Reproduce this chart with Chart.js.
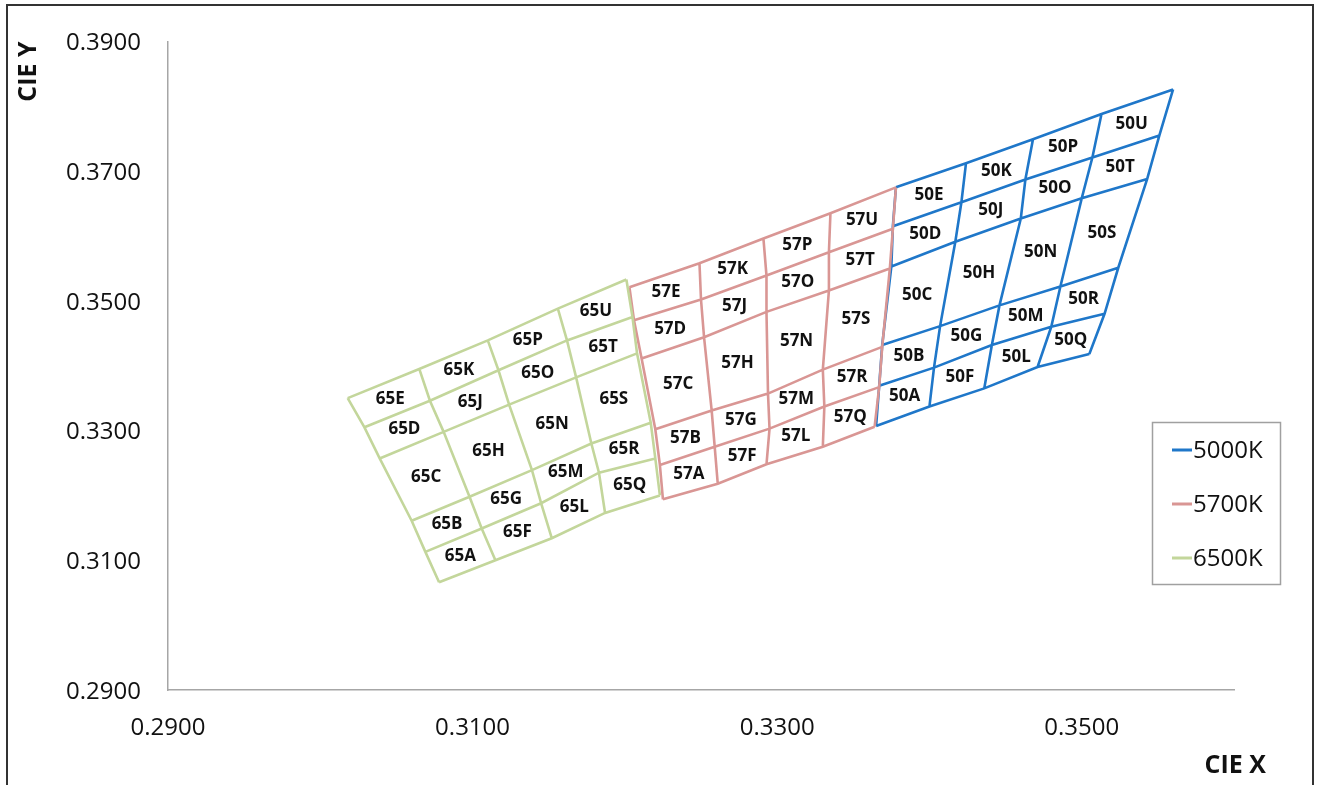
<!DOCTYPE html>
<html>
<head>
<meta charset="utf-8">
<script src="https://cdn.jsdelivr.net/npm/chart.js@4"></script>
<style>
  html, body { margin: 0; padding: 0; background: #fff; }
  #wrap { width: 1319px; height: 785px; }
</style>
</head>
<body>
<div id="wrap"><canvas id="myChart" width="1319" height="785"></canvas></div>
<script>
// bin letters, column by column (bottom to top), no "I"
var binLetters = ['A','B','C','D','E','F','G','H','J','K','L','M','N','O','P','Q','R','S','T','U'];

var xTicks = [0.29, 0.31, 0.33, 0.35];
var yTicks = [0.29, 0.31, 0.33, 0.35, 0.37, 0.39];

// grid corners: one array per column line, bottom row line first
var x65 = [
    [0.3078, 0.3069, 0.3060, 0.3039, 0.3029, 0.3018],
    [0.3115, 0.3106, 0.3098, 0.3081, 0.3072, 0.3065],
    [0.3152, 0.3145, 0.3139, 0.3124, 0.3117, 0.3110],
    [0.3187, 0.3183, 0.3178, 0.3168, 0.3162, 0.3156],
    [0.3223, 0.3220, 0.3217, 0.3208, 0.3205, 0.3201]
];
var y65 = [
    [0.3066, 0.3113, 0.3161, 0.3257, 0.3305, 0.3350],
    [0.3100, 0.3149, 0.3198, 0.3298, 0.3346, 0.3395],
    [0.3134, 0.3188, 0.3239, 0.3340, 0.3393, 0.3439],
    [0.3173, 0.3235, 0.3280, 0.3382, 0.3439, 0.3488],
    [0.3200, 0.3257, 0.3312, 0.3419, 0.3475, 0.3533]
];
var x57 = [
    [0.3225, 0.3223, 0.3220, 0.3211, 0.3206, 0.3203],
    [0.3261, 0.3259, 0.3257, 0.3252, 0.3250, 0.3249],
    [0.3293, 0.3295, 0.3294, 0.3293, 0.3293, 0.3291],
    [0.3330, 0.3331, 0.3330, 0.3334, 0.3334, 0.3335],
    [0.3364, 0.3367, 0.3369, 0.3374, 0.3376, 0.3378]
];
var y57 = [
    [0.3194, 0.3247, 0.3302, 0.3411, 0.3470, 0.3521],
    [0.3218, 0.3275, 0.3331, 0.3444, 0.3502, 0.3558],
    [0.3248, 0.3303, 0.3357, 0.3483, 0.3539, 0.3596],
    [0.3275, 0.3337, 0.3394, 0.3516, 0.3575, 0.3635],
    [0.3306, 0.3367, 0.3429, 0.3550, 0.3611, 0.3675]
];
var x50 = [
    [0.3365, 0.3367, 0.3369, 0.3375, 0.3376, 0.3378],
    [0.3400, 0.3403, 0.3407, 0.3417, 0.3421, 0.3424],
    [0.3436, 0.3441, 0.3446, 0.3460, 0.3463, 0.3468],
    [0.3471, 0.3480, 0.3486, 0.3500, 0.3507, 0.3513],
    [0.3505, 0.3515, 0.3524, 0.3543, 0.3551, 0.3560]
];
var y50 = [
    [0.3307, 0.3369, 0.3432, 0.3553, 0.3615, 0.3675],
    [0.3337, 0.3397, 0.3461, 0.3591, 0.3652, 0.3712],
    [0.3365, 0.3432, 0.3493, 0.3627, 0.3687, 0.3749],
    [0.3398, 0.3460, 0.3522, 0.3658, 0.3721, 0.3788],
    [0.3418, 0.3480, 0.3551, 0.3688, 0.3755, 0.3826]
];

var seriesNames = ['5000K', '5700K', '6500K'];
var seriesPrefix = ['50', '57', '65'];
var seriesColors = ['#1f77c9', '#d99694', '#c3d69b'];
var seriesX = [x50, x57, x65];
var seriesY = [y50, y57, y65];

// turn the corner grid into row lines + column lines, broken by gaps
function gridPoints(xs, ys) {
    var pts = [];
    var cols = xs.length, rows = xs[0].length;
    for (var r = 0; r < rows; r++) {
        for (var c = 0; c < cols; c++) pts.push({x: xs[c][r], y: ys[c][r]});
        pts.push({x: null, y: null});
    }
    for (var c = 0; c < cols; c++) {
        for (var r = 0; r < rows; r++) pts.push({x: xs[c][r], y: ys[c][r]});
        pts.push({x: null, y: null});
    }
    return pts;
}

var datasets = [];
for (var i = 0; i < seriesNames.length; i++) {
    datasets.push({
        label: seriesNames[i],
        data: gridPoints(seriesX[i], seriesY[i]),
        showLine: true,
        spanGaps: false,
        borderColor: seriesColors[i],
        backgroundColor: seriesColors[i],
        borderWidth: 2.6,
        pointRadius: 0,
        order: 3 - i
    });
}

// bin names in the middle of each cell
var binLabels = {
    id: 'binLabels',
    afterDatasetsDraw: function (chart) {
        var ctx = chart.ctx, sx = chart.scales.x, sy = chart.scales.y;
        ctx.save();
        ctx.font = 'bold 17px "Open Sans"';
        ctx.fillStyle = '#111';
        ctx.textAlign = 'center';
        ctx.textBaseline = 'middle';
        for (var i = 0; i < seriesNames.length; i++) {
            var xs = seriesX[i], ys = seriesY[i];
            for (var c = 0; c < xs.length - 1; c++) {
                for (var r = 0; r < xs[0].length - 1; r++) {
                    var cx = (xs[c][r] + xs[c + 1][r] + xs[c][r + 1] + xs[c + 1][r + 1]) / 4;
                    var cy = (ys[c][r] + ys[c + 1][r] + ys[c][r + 1] + ys[c + 1][r + 1]) / 4;
                    ctx.fillText(seriesPrefix[i] + binLetters[c * 5 + r], sx.getPixelForValue(cx), sy.getPixelForValue(cy));
                }
            }
        }
        ctx.restore();
    }
};

// outer frame, axis titles and boxed legend
var decorations = {
    id: 'decorations',
    afterDraw: function (chart) {
        var ctx = chart.ctx, area = chart.chartArea;
        ctx.save();
        ctx.strokeStyle = '#333';
        ctx.lineWidth = 2;
        ctx.beginPath();
        ctx.moveTo(7, 800); ctx.lineTo(7, 5); ctx.lineTo(1313, 5); ctx.lineTo(1313, 800);
        ctx.stroke();

        ctx.fillStyle = '#111';
        ctx.font = 'bold 25px "Open Sans"';
        ctx.textBaseline = 'middle';
        ctx.textAlign = 'right';
        ctx.fillText('CIE X', 1266, 766);
        ctx.save();
        ctx.translate(29, area.top);
        ctx.rotate(-Math.PI / 2);
        ctx.textAlign = 'right';
        ctx.fillText('CIE Y', 0, 0);
        ctx.restore();

        // legend box
        ctx.strokeStyle = '#a0a0a0';
        ctx.lineWidth = 1.5;
        ctx.strokeRect(1152.5, 422.5, 128, 162);
        ctx.font = '24px "Open Sans"';
        ctx.textAlign = 'left';
        chart.data.datasets.forEach(function (ds, k) {
            var ly = 450 + k * 54;
            ctx.strokeStyle = ds.borderColor;
            ctx.lineWidth = 3;
            ctx.beginPath();
            ctx.moveTo(1172, ly); ctx.lineTo(1192, ly);
            ctx.stroke();
            ctx.fillStyle = '#111';
            ctx.fillText(ds.label, 1193, ly + 1);
        });
        ctx.restore();
    }
};

function createChart() {
    var ctx = document.getElementById('myChart').getContext('2d');
    new Chart(ctx, {
        type: 'scatter',
        data: {datasets: datasets},
        options: {
            responsive: false,
            animation: false,
            devicePixelRatio: 1,
            layout: {padding: {top: 41, right: 85, left: 0, bottom: 0}},
            plugins: {legend: {display: false}, tooltip: {enabled: false}},
            scales: {
                x: {
                    type: 'linear',
                    min: 0.29,
                    max: 0.36,
                    afterFit: function (s) { s.height = 95; },
                    afterBuildTicks: function (s) { s.ticks = xTicks.map(function (v) { return {value: v}; }); },
                    grid: {display: false, drawTicks: false},
                    border: {display: true, color: '#a6a6a6', width: 1.5},
                    ticks: {
                        padding: 24,
                        color: '#111',
                        font: {family: '"Open Sans"', size: 24},
                        callback: function (v) { return v.toFixed(4); }
                    }
                },
                y: {
                    type: 'linear',
                    min: 0.29,
                    max: 0.39,
                    afterFit: function (s) { s.width = 168; },
                    afterBuildTicks: function (s) { s.ticks = yTicks.map(function (v) { return {value: v}; }); },
                    grid: {display: false, drawTicks: false},
                    border: {display: true, color: '#a6a6a6', width: 1.5},
                    ticks: {
                        padding: 27,
                        labelOffset: 2,
                        color: '#111',
                        font: {family: '"Open Sans"', size: 24},
                        callback: function (v) { return v.toFixed(4); }
                    }
                }
            }
        },
        plugins: [binLabels, decorations]
    });
}

createChart();
</script>
</body>
</html>
